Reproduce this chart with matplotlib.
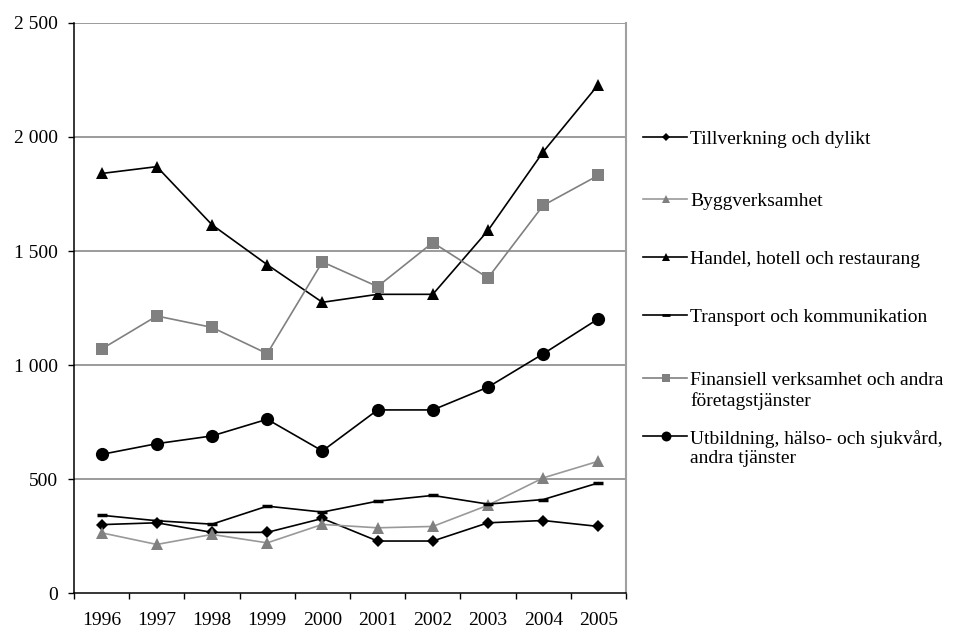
import matplotlib
matplotlib.use("Agg")
import matplotlib.pyplot as plt
from matplotlib.lines import Line2D
from matplotlib.ticker import FuncFormatter, FixedLocator
import numpy as np

plt.rcParams['font.family'] = ['Liberation Serif', 'DejaVu Serif']

years = ['1996', '1997', '1998', '1999', '2000', '2001', '2002', '2003', '2004', '2005']

tillverkning = [300, 308, 266, 266, 327, 228, 228, 308, 318, 292]
bygg = [264, 213, 257, 220, 301, 286, 292, 385, 505, 578]
handel = [1840, 1870, 1615, 1440, 1275, 1310, 1310, 1590, 1935, 2230]
transport = [341, 317, 302, 381, 355, 403, 428, 390, 410, 483]
finansiell = [1070, 1215, 1165, 1050, 1452, 1344, 1537, 1382, 1700, 1832]
utbildning = [608, 655, 689, 762, 623, 803, 803, 903, 1049, 1203]

labels = ['Tillverkning och dylikt',
          'Byggverksamhet',
          'Handel, hotell och restaurang',
          'Transport och kommunikation',
          'Finansiell verksamhet och andra\nföretagstjänster',
          'Utbildning, hälso- och sjukvård,\nandra tjänster']

GRAY = '#808080'
LGRAY = '#999999'

# (values, line colour, marker, marker size, marker colour)
series = [
    (tillverkning, 'black', 'D', 6, 'black'),
    (bygg, LGRAY, '^', 8, GRAY),
    (handel, 'black', '^', 8, 'black'),
    (transport, 'black', '_', 7, 'black'),
    (finansiell, GRAY, 's', 8, GRAY),
    (utbildning, 'black', 'o', 9.5, 'black'),
]

fig = plt.figure(figsize=(9.71, 6.30), dpi=100)
ax = fig.add_axes([0.0762, 0.0587, 0.5685, 0.9048])

x = np.arange(len(years))
for vals, lc, mk, ms, mc in series:
    mew = 2.5 if mk == '_' else 0
    ax.plot(x, vals, color=lc, lw=1.2, marker=mk, markersize=ms,
            markerfacecolor=mc, markeredgecolor=mc, markeredgewidth=mew,
            zorder=3)

ax.set_xlim(-0.5, len(years) - 0.5)
ax.set_ylim(0, 2500)

# ticks between categories, labels on the categories
ax.xaxis.set_major_locator(FixedLocator(np.arange(-0.5, len(years), 1.0)))
ax.xaxis.set_major_formatter(FuncFormatter(lambda v, p: ''))
ax.set_xticks(x, years, minor=True)
ax.tick_params(axis='x', which='major', direction='out', length=4.5, width=1, color='black')
ax.tick_params(axis='x', which='minor', length=0, pad=14, labelsize=14)

ax.set_yticks(np.arange(0, 2501, 500))
ax.yaxis.set_major_formatter(FuncFormatter(lambda v, p: f'{int(v):,}'.replace(',', ' ')))
ax.tick_params(axis='y', direction='out', length=4.5, width=1, color='black', pad=7, labelsize=14)

for v in range(500, 2501, 500):
    ax.axhline(v, color=GRAY, lw=1.1, zorder=1)

ax.spines['left'].set_color('black')
ax.spines['bottom'].set_color('black')
ax.spines['left'].set_linewidth(1.1)
ax.spines['bottom'].set_linewidth(1.1)
ax.spines['top'].set_visible(False)
ax.spines['right'].set_color('#a0a0a0')
ax.spines['right'].set_linewidth(1.5)

# legend drawn by hand in figure pixels
W, H = 971, 630
leg_y = [137, 199, 257, 315, 378, 436]
for (vals, lc, mk, ms, mc), lab, yy in zip(series, labels, leg_y):
    fy = 1 - yy / H
    mew = 2.5 if mk == '_' else 0
    fig.add_artist(Line2D([643 / W, 687 / W], [fy, fy], color=lc, lw=1.2,
                          transform=fig.transFigure))
    fig.add_artist(Line2D([666 / W], [fy], marker=mk, markersize=ms * 0.75,
                          markerfacecolor=mc, markeredgecolor=mc,
                          markeredgewidth=mew * 0.8, linestyle='none',
                          transform=fig.transFigure))
    fig.text(690 / W, fy + 6 / H, lab, fontsize=14, va='top', ha='left',
             linespacing=1.2)

fig.savefig('out.png', dpi=100)
